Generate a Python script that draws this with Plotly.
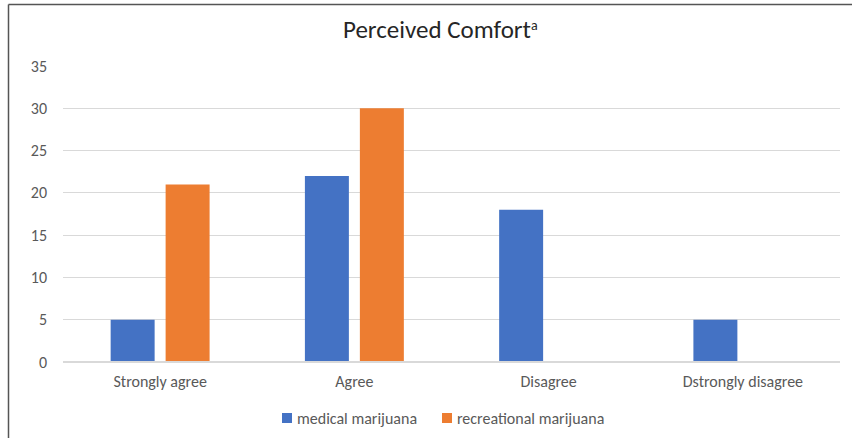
import plotly.graph_objects as go

categories = ["Strongly agree", "Agree", "Disagree", "Dstrongly disagree"]
medical = [5, 22, 18, 5]
recreational = [21, 30, 0, 0]
series_names = ["medical marijuana", "recreational marijuana"]
series_colors = ["#4472C4", "#ED7D31"]
y_ticks = [0, 5, 10, 15, 20, 25, 30, 35]

W, H = 852, 438
L, R, T, B = 63, 12, 66, 76
pw, ph = W - L - R, H - T - B

def px_x(x):
    return (x - L) / pw

def px_y(y):
    return (H - B - y) / ph

font = "Carlito, Calibri, 'Open Sans', sans-serif"
text_color = "#595959"

fig = go.Figure()
for name, vals, col in zip(series_names, [medical, recreational], series_colors):
    fig.add_trace(go.Bar(name=name, x=categories, y=vals,
                         marker=dict(color=col, line=dict(width=0)),
                         showlegend=False))

# custom legend (square + label) matching the reference layout
legend_sq_x = [282, 442]
shapes = []
annotations = []
for name, col, sx in zip(series_names, series_colors, legend_sq_x):
    shapes.append(dict(type="rect", xref="paper", yref="paper",
                       x0=px_x(sx), x1=px_x(sx + 10), y0=px_y(423), y1=px_y(413),
                       fillcolor=col, line=dict(width=0)))
    annotations.append(dict(text=name, xref="paper", yref="paper",
                            x=px_x(sx + 13), y=px_y(418), xanchor="left", yanchor="middle",
                            showarrow=False, font=dict(family=font, size=16, color=text_color)))

# title as annotation for precise placement
annotations.append(dict(
    text="Perceived Comfort<span style='font-size:20px'><sup>a</sup></span>",
    xref="paper", yref="paper", x=px_x(440), y=px_y(30),
    xanchor="center", yanchor="middle", showarrow=False,
    font=dict(family=font, size=25, color="#262626")))

shapes += [
    dict(type="line", xref="paper", yref="paper", x0=0, x1=1, y0=0, y1=0,
         line=dict(color="#D9D9D9", width=2)),
    dict(type="line", xref="paper", yref="paper", x0=px_x(8.5), x1=px_x(W + 5),
         y0=px_y(4.5), y1=px_y(4.5), line=dict(color="#555555", width=1.5)),
    dict(type="line", xref="paper", yref="paper", x0=px_x(8.5), x1=px_x(8.5),
         y0=px_y(4.5), y1=px_y(H + 5), line=dict(color="#555555", width=1.5)),
]

fig.update_layout(
    width=W, height=H,
    margin=dict(l=L, r=R, t=T, b=B, pad=0),
    paper_bgcolor="white", plot_bgcolor="white",
    barmode="group", bargap=0.434, bargroupgap=0.2,
    font=dict(family=font, size=16, color=text_color),
    showlegend=False,
    xaxis=dict(showgrid=False, ticks="", showline=False, zeroline=False,
               ticklabelstandoff=8,
               tickfont=dict(size=16, color=text_color), fixedrange=True),
    yaxis=dict(range=[0, 35], tickvals=y_ticks, showgrid=True, gridcolor="#D9D9D9",
               gridwidth=1, zeroline=False, showline=False, ticks="",
               ticklabelstandoff=15,
               tickfont=dict(size=16, color=text_color), fixedrange=True),
    shapes=shapes,
    annotations=annotations,
)

fig.write_html("out.html")
